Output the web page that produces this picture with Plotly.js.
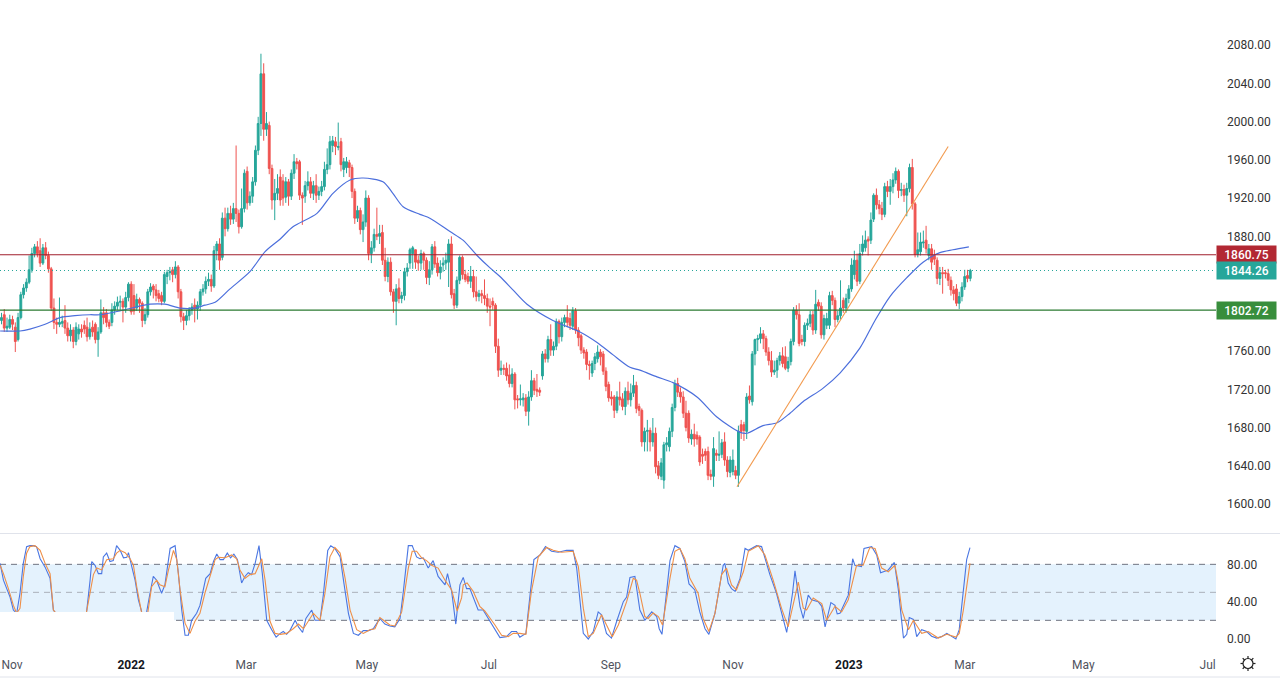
<!DOCTYPE html>
<html>
<head>
<meta charset="utf-8">
<script src="https://cdn.plot.ly/plotly-3.0.1.min.js"></script>
<style>html,body{margin:0;padding:0;background:#fff}#chart{width:1280px;height:680px}</style>
</head>
<body>
<div id="chart"></div>
<script>
const opens = [
1792,1798,1784,1785,1793,1785,1772,1795,1819,1826,
1832,1845,1862,1869,1865,1852,1868,1860,1846,1805,
1790,1788,1789,1792,1784,1776,1782,1770,1778,1783,
1787,1785,1775,1785,1788,1772,1780,1800,1800,1790,
1790,1803,1807,1811,1812,1806,1816,1830,1818,1805,
1814,1810,1792,1798,1822,1828,1824,1820,1818,1812,
1838,1842,1845,1840,1848,1822,1796,1792,1797,1803,
1808,1804,1808,1822,1825,1833,1835,1828,1865,1872,
1858,1899,1888,1904,1898,1909,1904,1890,1909,1948,
1915,1922,1937,1970,1998,2050,1992,1996,1951,1918,
1925,1942,1938,1921,1937,1922,1946,1958,1958,1923,
1922,1933,1937,1925,1933,1923,1927,1932,1950,1955,
1975,1979,1973,1979,1950,1952,1957,1952,1927,1899,
1907,1887,1895,1920,1862,1868,1882,1880,1884,1855,
1838,1853,1822,1812,1826,1815,1818,1843,1852,1862,
1866,1855,1852,1862,1855,1837,1845,1869,1852,1842,
1850,1852,1853,1872,1820,1808,1834,1858,1840,1838,
1833,1838,1822,1817,1820,1818,1815,1807,1812,1808,
1765,1740,1742,1742,1735,1726,1736,1710,1709,1709,
1711,1697,1712,1729,1720,1719,1734,1757,1752,1772,
1761,1765,1791,1775,1790,1795,1794,1786,1802,1782,
1776,1761,1759,1746,1737,1747,1752,1759,1757,1739,
1725,1712,1712,1698,1712,1710,1702,1718,1709,1716,
1724,1702,1698,1665,1676,1677,1665,1674,1640,1629,
1625,1662,1660,1676,1701,1726,1717,1712,1695,1695,
1668,1673,1672,1670,1652,1655,1655,1631,1629,1653,
1651,1652,1665,1646,1633,1634,1635,1630,1683,1683,
1676,1713,1707,1757,1772,1773,1778,1773,1759,1750,
1738,1740,1750,1755,1754,1742,1749,1770,1803,1798,
1772,1770,1787,1789,1798,1782,1811,1807,1777,1787,
1787,1818,1813,1793,1797,1813,1805,1815,1825,1840,
1855,1833,1864,1868,1877,1876,1898,1923,1913,1909,
1903,1932,1927,1932,1939,1948,1928,1929,1923,1930,
1952,1914,1861,1864,1873,1876,1860,1867,1860,1855,
1836,1842,1842,1841,1834,1824,1825,1810,1817,1827,1839,1836];
const closes = [
1795,1784,1786,1793,1788,1770,1795,1819,1826,1832,
1845,1862,1869,1862,1852,1868,1860,1846,1805,1790,
1788,1790,1791,1784,1776,1782,1770,1785,1783,1780,
1783,1775,1783,1780,1772,1780,1800,1795,1790,1786,
1803,1807,1811,1812,1806,1816,1830,1801,1802,1814,
1810,1792,1798,1822,1827,1824,1818,1815,1812,1840,
1842,1843,1840,1848,1822,1796,1792,1797,1803,1806,
1804,1808,1822,1825,1833,1835,1828,1865,1872,1855,
1899,1888,1904,1898,1909,1904,1890,1909,1946,1915,
1922,1937,1970,1998,2050,1992,1998,1951,1918,1925,
1930,1918,1920,1937,1922,1946,1958,1956,1923,1920,
1933,1937,1925,1933,1923,1927,1932,1950,1955,1979,
1980,1974,1974,1955,1958,1958,1952,1927,1899,1907,
1887,1895,1920,1862,1868,1882,1880,1883,1855,1838,
1853,1822,1812,1825,1815,1818,1843,1847,1866,1868,
1853,1852,1862,1855,1837,1845,1869,1851,1842,1848,
1852,1855,1872,1819,1808,1834,1858,1840,1835,1833,
1838,1822,1817,1820,1818,1815,1807,1806,1808,1765,
1740,1742,1741,1734,1726,1736,1709,1709,1710,1711,
1697,1712,1729,1719,1718,1717,1757,1752,1772,1761,
1765,1791,1775,1790,1795,1790,1787,1802,1782,1774,
1761,1758,1746,1745,1747,1754,1759,1754,1739,1723,
1711,1710,1698,1712,1709,1702,1718,1709,1716,1724,
1700,1698,1665,1676,1677,1665,1674,1639,1630,1643,
1662,1664,1676,1701,1726,1717,1712,1695,1680,1669,
1673,1668,1668,1644,1650,1651,1630,1629,1658,1651,
1652,1664,1646,1634,1646,1646,1630,1676,1676,1677,
1712,1709,1757,1772,1773,1778,1773,1759,1750,1738,
1740,1750,1755,1747,1742,1749,1770,1803,1798,1768,
1770,1787,1789,1798,1782,1809,1807,1777,1794,1794,
1818,1813,1793,1797,1805,1805,1815,1825,1850,1855,
1833,1862,1872,1876,1875,1897,1923,1913,1909,1903,
1932,1927,1932,1939,1948,1928,1929,1923,1930,1952,
1914,1861,1866,1874,1874,1867,1867,1853,1856,1836,
1842,1841,1841,1834,1824,1820,1810,1817,1827,1838,1836,1844.26];
const highs = [
1800,1804,1795,1798,1797,1790,1800,1822,1830,1836,
1860,1868,1872,1875,1878,1872,1874,1864,1848,1815,
1795,1816,1797,1808,1790,1788,1785,1790,1788,1788,
1792,1795,1790,1792,1790,1785,1814,1806,1804,1793,
1810,1812,1817,1818,1815,1822,1832,1833,1830,1820,
1816,1812,1805,1825,1831,1830,1830,1824,1822,1843,
1845,1848,1848,1854,1850,1825,1800,1803,1806,1810,
1815,1812,1825,1830,1838,1842,1840,1870,1875,1878,
1905,1910,1910,1912,1915,1975,1908,1930,1950,1953,
1927,1942,1975,2005,2071,2061,2010,2000,1955,1940,
1945,1950,1945,1942,1940,1950,1966,1962,1960,1926,
1938,1948,1942,1938,1945,1932,1938,1958,1972,1985,
1985,1984,1999,1983,1962,1963,1960,1955,1930,1912,
1910,1903,1928,1923,1875,1888,1910,1892,1892,1868,
1858,1858,1825,1830,1836,1822,1847,1852,1868,1870,
1866,1860,1866,1864,1858,1854,1872,1875,1858,1855,
1858,1863,1877,1880,1825,1838,1860,1860,1845,1842,
1849,1845,1838,1824,1824,1835,1820,1815,1816,1810,
1773,1750,1746,1748,1746,1742,1738,1714,1725,1716,
1715,1718,1740,1732,1736,1722,1760,1762,1776,1788,
1770,1794,1793,1795,1798,1808,1800,1806,1805,1785,
1778,1764,1762,1750,1750,1758,1766,1762,1760,1743,
1728,1718,1714,1718,1728,1716,1722,1728,1726,1735,
1728,1705,1700,1680,1688,1680,1690,1680,1645,1648,
1665,1670,1680,1705,1730,1732,1722,1718,1708,1698,
1678,1684,1676,1672,1658,1658,1660,1636,1670,1657,
1676,1668,1675,1650,1650,1657,1640,1682,1688,1686,
1716,1724,1760,1773,1777,1785,1782,1776,1764,1760,
1750,1753,1759,1764,1765,1754,1773,1806,1808,1810,
1777,1790,1794,1802,1802,1824,1814,1811,1798,1800,
1822,1823,1816,1802,1834,1816,1820,1829,1857,1865,
1862,1872,1881,1886,1880,1905,1925,1930,1918,1916,
1936,1938,1940,1946,1952,1950,1936,1934,1936,1956,
1961,1916,1884,1884,1886,1891,1872,1872,1866,1858,
1848,1848,1845,1846,1838,1828,1830,1822,1832,1845,1845,1846];
const lows = [
1788,1780,1780,1783,1782,1759,1770,1793,1815,1822,
1830,1842,1858,1858,1848,1850,1856,1842,1802,1783,
1778,1785,1785,1778,1770,1770,1763,1766,1772,1774,
1778,1770,1772,1775,1768,1754,1778,1788,1785,1783,
1786,1798,1803,1803,1790,1800,1812,1798,1798,1802,
1800,1785,1788,1795,1818,1815,1812,1811,1808,1810,
1830,1834,1832,1836,1815,1790,1782,1787,1792,1798,
1790,1793,1802,1818,1820,1828,1822,1826,1855,1845,
1855,1880,1885,1892,1893,1895,1883,1888,1905,1908,
1912,1915,1933,1965,1985,1980,1985,1945,1908,1897,
1918,1912,1912,1915,1912,1918,1940,1950,1918,1892,
1915,1928,1920,1918,1915,1918,1922,1928,1945,1950,
1968,1965,1970,1948,1942,1946,1942,1920,1893,1895,
1882,1874,1890,1855,1852,1864,1876,1872,1850,1833,
1832,1818,1800,1787,1810,1810,1813,1838,1846,1846,
1846,1844,1845,1845,1830,1829,1840,1847,1838,1835,
1843,1845,1827,1815,1804,1805,1830,1835,1832,1830,
1826,1816,1812,1812,1810,1808,1800,1786,1803,1758,
1733,1735,1735,1729,1722,1722,1699,1700,1703,1702,
1692,1682,1708,1714,1712,1713,1730,1748,1748,1755,
1755,1761,1768,1770,1785,1785,1782,1782,1778,1765,
1757,1752,1740,1730,1733,1740,1748,1745,1735,1718,
1707,1703,1690,1695,1703,1698,1693,1704,1702,1712,
1695,1692,1660,1655,1655,1655,1660,1632,1626,1625,
1616,1655,1655,1670,1697,1712,1706,1690,1676,1664,
1662,1660,1662,1640,1642,1645,1625,1625,1618,1645,
1645,1648,1640,1628,1628,1630,1626,1618,1668,1666,
1668,1705,1703,1745,1760,1768,1762,1755,1745,1733,
1735,1732,1745,1743,1740,1738,1745,1766,1793,1765,
1766,1765,1782,1785,1777,1778,1802,1773,1772,1783,
1783,1808,1785,1790,1793,1800,1800,1810,1822,1835,
1828,1830,1860,1864,1860,1872,1895,1908,1903,1897,
1900,1921,1913,1925,1935,1920,1922,1916,1901,1926,
1908,1858,1858,1860,1868,1862,1855,1845,1850,1830,
1829,1820,1836,1828,1818,1813,1807,1804,1812,1824,1832,1833];

const maBar = [-0.5,6.7,10.3,15.8,21.2,26.6,32.1,35.7,42.9,53.8,59.2,64.7,70.1,73.7,77.4,82.8,90,95.5,100.9,105.6,114.3,120.1,126.3,131,138.2,141.8,145.5,151.6,155.2,162.5,167.2,172.3,177,180.6,185.3,190.4,199.8,209.6,215.8,221.6,227.7,231.3,237.5,243.3,252,259.2,267.6,270.1,275.9,281,285.7,290.4,297.6,303.8,311,316.5,321.9,328.1,333.9,340,344.7,350.5];
const maValue = [1781,1781,1783,1788,1795,1797,1798,1798,1802,1809,1809,1805,1805,1808,1811,1825,1843,1864,1877,1890,1904,1925,1939,1941,1937,1925,1911,1903,1899,1885,1876,1860,1847,1838,1824,1809,1792,1780,1769,1756,1743,1740,1733,1727,1712,1691,1675,1674,1682,1685,1695,1707,1721,1737,1763,1792,1817,1837,1853,1863,1866,1869];

const stochKBar = [-0.5,0.7,1.9,3.1,4.3,5.5,6.7,7.9,9.1,10.3,11.5,12.7,14,15.8,17.6,18.8,22,26,30,30.9,32.1,32.7,33.9,35.1,36.3,36.9,38.1,39.3,40.5,41.7,43,44.2,45.4,46,47.2,48.4,49.6,50.8,51.8,52.6,53.8,55,56.2,58,59.2,61.1,62.9,64.1,65.3,66.5,67.7,68.9,70.7,71.9,74,75.6,76.8,78,79.2,80.4,81.8,83,84.2,85.5,87,88.2,89.4,90.6,91.9,93.3,94.5,96.1,97.9,99.5,101,102.1,103.3,104.5,106.4,107.6,109.1,110.3,112.4,113.6,115.4,116.6,118.2,119.3,120.8,122.7,123.9,125.7,127.5,129.3,131.1,133,134.7,137.1,138.9,140.7,142.5,144.4,145.6,147.4,148.8,150.4,151.6,152.8,154.6,156.4,158.2,160.7,161.6,163.1,164.6,166.1,167.3,168.5,169.7,172.7,174.5,178.8,180.6,183,184.8,186.6,187.8,190,191.4,192.9,195.1,197.1,199.3,201.7,204.7,207.1,208.4,210.8,212.6,214.4,216.2,217.4,219.2,221,222.9,225.3,226.5,227.7,229.5,231.3,233.1,235.6,237.4,238.3,239.3,242.2,244,245.8,247.6,249.1,251.2,253,254.9,256.3,258.5,261.5,262.1,263.3,264.5,265.8,267.6,269.4,270.6,273.6,275.4,278.4,280.8,284.5,286.6,287.5,289.3,290.5,292.3,293.5,295.9,297.2,298.4,300.5,302,302.8,303.8,306.2,306.8,308.4,309.2,311.6,312.5,315.3,317.1,318.5,321.3,323.5,324.9,326.8,328,328.9,330.4,331.6,333.4,335.2,337,338.8,340.6,342.5,344.3,345.8,347,348.5,349.7,350.9];
const stochKValue = [81,63,54,45,31,27.5,49,81,99,100,100,99,86,77,65,31,18,12,14,31,63,83,79,70,70,88,92,83,84,100,95,87,87.5,92.5,77.5,63,42,29,22,29,49,67,63,49,58,97,100,70,31,4,4,20,27.5,36,65,70,83,91,85,85,92,87,91,85,60,67,71,69,81,100,70,20,10,2,6,8,5,9,20,13,7,22,31,20,20,47,95,100,97,88,63,27.5,6,4,9,9,11,22,16,14,13,22,51,100,100,88,86,87,76,84,67,58,70,51,16,58,66,54,54,31,31,10,1.5,2.5,8,8,2,6,47,85,90,99,94,93,95,95,76,6,0,8,29,26,6,1,19,40,45,66,67,31,20,29,24,11,5,84,100,97,83,59,52.5,29,11,5,27.5,79,81,60,54,51,65,97,95,100,99,69,49,7,49,73,35,22,47,42,40,35,13,39,36,27,27.5,44,47,86,79,77.5,97,99,90,71,74,82,54,1,5,23,21,2.5,10,8,3,1,2.5,6,2.5,0,10,54,85,98];
const stochDBar = [-0.5,0.7,2.5,4.3,5.5,6.7,7.9,9.1,10.3,12.1,14,15.8,17.6,18.8,22,26,30,31.5,33.3,34.5,36.3,38.1,40.5,41.7,43,44.8,46.6,47.8,49,50.8,52.6,54.4,56.2,57.4,59.2,60.5,62.3,63.5,64.7,66.5,68.3,70.1,71.9,73.7,75.6,77.4,78.6,81,83.4,85.2,86.4,88.2,90,91.9,94.3,95.5,97.3,99.1,101,103.3,105.7,107.6,109.4,111.2,113,115.4,117.2,119,120.8,122.7,124.5,126.3,128.7,131.1,133.5,135.3,137.1,138.9,140.7,142.5,145,147.4,148.8,150.4,152.2,154,155.8,158.2,160.7,163.1,165.1,166.7,167.3,168.7,170.9,173.3,175.1,178.8,181.2,183.6,185.4,187.8,190,192,194.5,197.5,199.9,202.9,207.1,209,210.8,212.6,214.4,217.4,219.8,221.3,223.5,226.5,228.9,230.1,231.3,233.1,234.3,236.1,238,239.5,242.2,244,245.8,247.6,249.4,252.4,254.2,256.3,258.5,260.9,262.7,264.5,266.3,268.8,270.6,274.2,276.6,279.6,282.6,285,288.7,290.5,291.7,294.1,297.2,299,302,304.4,306.8,309.8,312.2,314.6,316.5,318.9,321.3,323.7,324.9,326.2,328.6,330.4,333.4,335.8,339.4,342.5,345.8,347,348.5,349.7,350.9];
const stochDValue = [79,70,54,36,27.5,33,67,92,99,100,95,81,70,31,20,14,16,40,69,76,74,85,86,92,95,92.5,86,79,56,27.5,20,56,63,58,56,74,95,85,52.5,17,6,19,27.5,49,69,85,87.5,87,90,86,74,65,69,70,86,63,19,6,5,6,11,16,11,20,27.5,20,49,88,98,92,65,31,10,6,10,11,23,19,15,14,29,76,94,94,87,84,79,76,63,52.5,30,44,58,60,51,35,30,15,4,2.5,6,6,5,51,88,98,95,93,94,77.5,33,2.5,6,26,11,2.5,15,40,65,63,49,24,22,28,24,15,65,94,97,86,65,49,22,8,27.5,69,76,58,52.5,72,94,100,90,63,33,13,61,33,31,44,38,20,35,29,42,79,79,98,97,76,72,79,61,31,10,20,6,8,1,5,2,6,31,56,81];

const xTickBars = [3.8,47,88.6,132.4,176.6,220.8,265,307,349,392,437];
const xTickLabels = ['Nov','<b><span style="color:#131722">2022</span></b>','Mar','May','Jul','Sep','Nov','<b><span style="color:#131722">2023</span></b>','Mar','May','Jul'];
const priceTicks = [1600,1640,1680,1720,1760,1880,1920,1960,2000,2040,2080];
const stochTicks = [0,40,80];
const resistance = 1860.75, lastPrice = 1844.26, support = 1802.72;
const trendBars = [266.5,343], trendPrices = [1618,1974];

const BAR0 = -0.543, BAR1 = 440.04;
const FONT = 'Roboto, sans-serif';
const bars = opens.map((_, i) => i);

const traces = [
  {type:'candlestick', x:bars, open:opens, high:highs, low:lows, close:closes, xaxis:'x', yaxis:'y',
   whiskerwidth:0, hoverinfo:'skip', showlegend:false,
   increasing:{line:{color:'#26a69a',width:1},fillcolor:'#26a69a'},
   decreasing:{line:{color:'#ef5350',width:1},fillcolor:'#ef5350'}},
  {type:'scatter', mode:'lines', x:maBar, y:maValue, xaxis:'x', yaxis:'y', hoverinfo:'skip', showlegend:false,
   line:{color:'#4c6fdc',width:1.2,shape:'spline',smoothing:0.8}},
  {type:'scatter', mode:'lines', x:trendBars, y:trendPrices, xaxis:'x', yaxis:'y', hoverinfo:'skip', showlegend:false,
   line:{color:'#f29a4e',width:1.1}},
  {type:'scatter', mode:'lines', x:stochKBar, y:stochKValue, xaxis:'x', yaxis:'y2', hoverinfo:'skip', showlegend:false,
   line:{color:'#4a76e2',width:1.1}},
  {type:'scatter', mode:'lines', x:stochDBar, y:stochDValue, xaxis:'x', yaxis:'y2', hoverinfo:'skip', showlegend:false,
   line:{color:'#ee8f48',width:1.1}}
];

const hline = (y, yref, color, dash, layer, width) => ({type:'line', xref:'x', yref, x0:BAR0, x1:BAR1, y0:y, y1:y,
  line:{color, width:width||1, dash}, layer});
const shapes = [
  {type:'rect', xref:'x', yref:'y2', x0:BAR0, x1:BAR1, y0:20, y1:80, fillcolor:'#e4f2fd', line:{width:0}, layer:'below'},
  hline(80,'y2','#6f7380','6px,5px','below'),
  hline(50,'y2','#aab0ba','6px,5px','below'),
  hline(20,'y2','#6f7380','6px,5px','below'),
  hline(resistance,'y','#a11f2c','solid','above',1.2),
  hline(support,'y','#2b7a31','solid','above',1.2),
  hline(lastPrice,'y','#26a69a','1px,3px','above'),
  {type:'rect', xref:'x', yref:'y2', x0:BAR0, x1:62.5, y0:-11.8, y1:28.9, fillcolor:'#ffffff', line:{width:0}, layer:'above'},
  {type:'line', xref:'paper', yref:'paper', x0:0, x1:1, y0:1-533.5/680, y1:1-533.5/680, line:{color:'#e0e3eb',width:1}},
  {type:'line', xref:'paper', yref:'paper', x0:0, x1:1, y0:1-677/680, y1:1-677/680, line:{color:'#e0e3eb',width:1}}
];
/* settings-gear glyph in the time-axis corner */
const gx = 1248, gy = 663.5;
shapes.push({type:'circle', xref:'paper', yref:'paper', x0:(gx-5)/1280, x1:(gx+5)/1280, y0:1-(gy+5)/680, y1:1-(gy-5)/680, line:{color:'#222',width:1.2}});
for (let a = 0; a < 8; a++) {
  const t = a*Math.PI/4, c = Math.cos(t), s = Math.sin(t);
  shapes.push({type:'line', xref:'paper', yref:'paper', x0:(gx+5*c)/1280, x1:(gx+7.5*c)/1280, y0:1-(gy+5*s)/680, y1:1-(gy+7.5*s)/680, line:{color:'#222',width:1.2}});
}

const badge = (v, color) => ({xref:'paper', yref:'y', x:1216/1280, xanchor:'left', y:v, yanchor:'middle',
  text:v.toFixed(2), showarrow:false, bgcolor:color, width:59, height:17, borderpad:0, align:'center',
  font:{family:FONT, size:12, color:'#fff', weight:500}});

const layout = {
  width:1280, height:680, margin:{l:0,r:0,t:0,b:0}, paper_bgcolor:'#fff', plot_bgcolor:'#fff',
  showlegend:false, hovermode:false, boxgap:0.05,
  font:{family:FONT, size:12, color:'#333'},
  xaxis:{domain:[0,1216/1280], range:[BAR0,BAR1], anchor:'y2', showgrid:false, zeroline:false, showline:false,
    rangeslider:{visible:false}, tickmode:'array', tickvals:xTickBars, ticktext:xTickLabels, ticks:'',
    tickfont:{family:FONT,size:12,color:'#50535e'}, ticklabelstandoff:6},
  yaxis:{domain:[147/680,1], range:[1569.7,2127.2], anchor:'x', side:'right', showgrid:false, zeroline:false, showline:false,
    tickmode:'array', tickvals:priceTicks, ticktext:priceTicks.map(v=>v.toFixed(2)), ticks:'',
    tickfont:{family:FONT,size:12,color:'#333'}, ticklabelstandoff:10},
  yaxis2:{domain:[30/680,146/680], range:[-11.8,112.5], anchor:'x', side:'right', showgrid:false, zeroline:false, showline:false,
    tickmode:'array', tickvals:stochTicks, ticktext:stochTicks.map(v=>v.toFixed(2)), ticks:'',
    tickfont:{family:FONT,size:12,color:'#333'}, ticklabelstandoff:10},
  shapes,
  annotations:[badge(resistance,'#b22833'), badge(lastPrice,'#26a69a'), badge(support,'#388e3c')]
};
Plotly.newPlot('chart', traces, layout, {displayModeBar:false, staticPlot:true});
</script>
</body>
</html>
